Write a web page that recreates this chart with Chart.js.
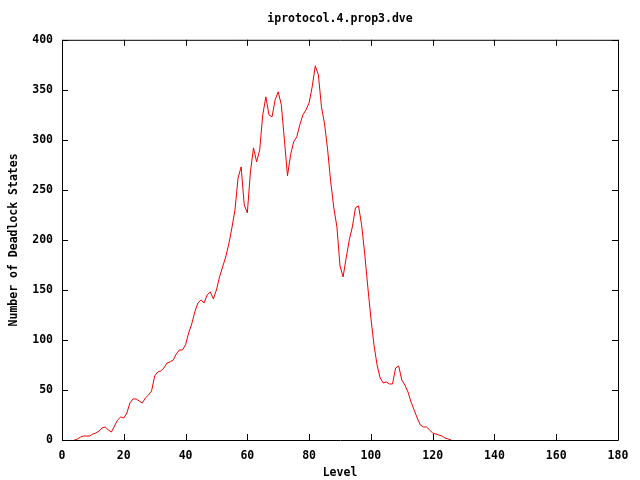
<!DOCTYPE html>
<html>
<head>
<meta charset="utf-8">
<script src="https://cdn.jsdelivr.net/npm/chart.js@4"></script>
<style>
  html, body { margin: 0; padding: 0; background: #fff; }
  #wrap { width: 640px; height: 480px; }
</style>
</head>
<body>
<div id="wrap"><canvas id="chart" width="640" height="480"></canvas></div>
<script>
// levels and number of deadlock states
const levels = [
  4, 5, 6, 7, 8, 9, 10, 11, 12, 13, 14, 15, 16, 17, 18, 19, 20, 21, 22, 23,
  24, 25, 26, 27, 28, 29, 30, 31, 32, 33, 34, 35, 36, 37, 38, 39, 40, 41, 42, 43,
  44, 45, 46, 47, 48, 49, 50, 51, 52, 53, 54, 55, 56, 57, 58, 59, 60, 61, 62, 63,
  64, 65, 66, 67, 68, 69, 70, 71, 72, 73, 74, 75, 76, 77, 78, 79, 80, 81, 82, 83,
  84, 85, 86, 87, 88, 89, 90, 91, 92, 93, 94, 95, 96, 97, 98, 99, 100, 101, 102, 103,
  104, 105, 106, 107, 108, 109, 110, 111, 112, 113, 114, 115, 116, 117, 118, 119, 120, 121, 122, 123,
  124, 125, 126
];
const deadlocks = [
  0, 1, 3, 4, 4, 4, 6, 7, 9, 12, 13, 10, 8, 14, 20, 23, 22, 27, 37, 41,
  41, 39, 37, 42, 45, 49, 64, 68, 69, 72, 77, 78, 80, 86, 90, 90, 95, 107, 116, 128,
  137, 140, 137, 145, 148, 141, 150, 163, 173, 183, 196, 212, 230, 262, 273, 235, 227, 268, 292, 278,
  290, 325, 343, 325, 323, 340, 348, 335, 300, 264, 285, 298, 303, 315, 325, 330, 337, 353, 374, 365,
  333, 316, 290, 258, 232, 213, 174, 163, 182, 200, 213, 232, 234, 215, 186, 153, 122, 95, 75, 62,
  57, 58, 56, 56, 72, 74, 60, 55, 48, 38, 30, 22, 15, 13, 13, 10, 7, 6, 5, 4,
  2, 1, 0
];

const xTicks = { min: 0, max: 180, step: 20 };
const yTicks = { min: 0, max: 400, step: 50 };

const FONT = '"DejaVu Sans Mono", "Liberation Mono", monospace';

// gnuplot style frame with inward ticks on all four sides
const framePlugin = {
  id: 'frame',
  afterDraw(chart) {
    const { ctx, chartArea: a, scales } = chart;
    const len = 6;
    ctx.save();
    ctx.strokeStyle = '#000';
    ctx.lineWidth = 1;
    ctx.beginPath();
    ctx.rect(a.left + 0.5, a.top + 0.5, a.right - a.left, a.bottom - a.top);
    scales.x.ticks.forEach(t => {
      const px = Math.round(scales.x.getPixelForValue(t.value)) + 0.5;
      ctx.moveTo(px, a.bottom);
      ctx.lineTo(px, a.bottom - len);
      ctx.moveTo(px, a.top);
      ctx.lineTo(px, a.top + len);
    });
    scales.y.ticks.forEach(t => {
      const py = Math.round(scales.y.getPixelForValue(t.value)) + 0.5;
      ctx.moveTo(a.left, py);
      ctx.lineTo(a.left + len, py);
      ctx.moveTo(a.right, py);
      ctx.lineTo(a.right - len, py);
    });
    ctx.stroke();
    ctx.restore();
  }
};

new Chart(document.getElementById('chart'), {
  type: 'line',
  data: {
    datasets: [{
      data: levels.map((l, i) => ({ x: l, y: deadlocks[i] })),
      borderColor: '#ee0000',
      borderWidth: 1,
      pointRadius: 0,
      tension: 0,
      fill: false
    }]
  },
  options: {
    responsive: false,
    animation: false,
    layout: { padding: { left: 0, right: 22, top: 0, bottom: 0 } },
    plugins: {
      legend: { display: false },
      tooltip: { enabled: false },
      title: {
        display: true,
        fullSize: false,
        text: 'iprotocol.4.prop3.dve',
        color: '#000',
        font: { family: FONT, size: 11.5, weight: 'bold' },
        padding: { top: 12, bottom: 14 }
      }
    },
    scales: {
      x: {
        type: 'linear',
        min: xTicks.min,
        max: xTicks.max,
        border: { display: false },
        grid: { display: false, drawTicks: false },
        ticks: {
          stepSize: xTicks.step,
          color: '#000',
          padding: 9,
          maxRotation: 0,
          font: { family: FONT, size: 11.5, weight: 'bold' }
        },
        title: {
          display: true,
          text: 'Level',
          color: '#000',
          font: { family: FONT, size: 11.5, weight: 'bold' },
          padding: { top: 0, bottom: 0 }
        },
        afterFit(s) { s.height = 40; }
      },
      y: {
        min: yTicks.min,
        max: yTicks.max,
        border: { display: false },
        grid: { display: false, drawTicks: false },
        ticks: {
          stepSize: yTicks.step,
          color: '#000',
          padding: 9,
          font: { family: FONT, size: 11.5, weight: 'bold' }
        },
        title: {
          display: true,
          text: 'Number of Deadlock States',
          color: '#000',
          font: { family: FONT, size: 11.5, weight: 'bold' },
          padding: { top: 7, bottom: 0 }
        },
        afterFit(s) { s.width = 62; }
      }
    }
  },
  plugins: [framePlugin]
});
</script>
</body>
</html>
